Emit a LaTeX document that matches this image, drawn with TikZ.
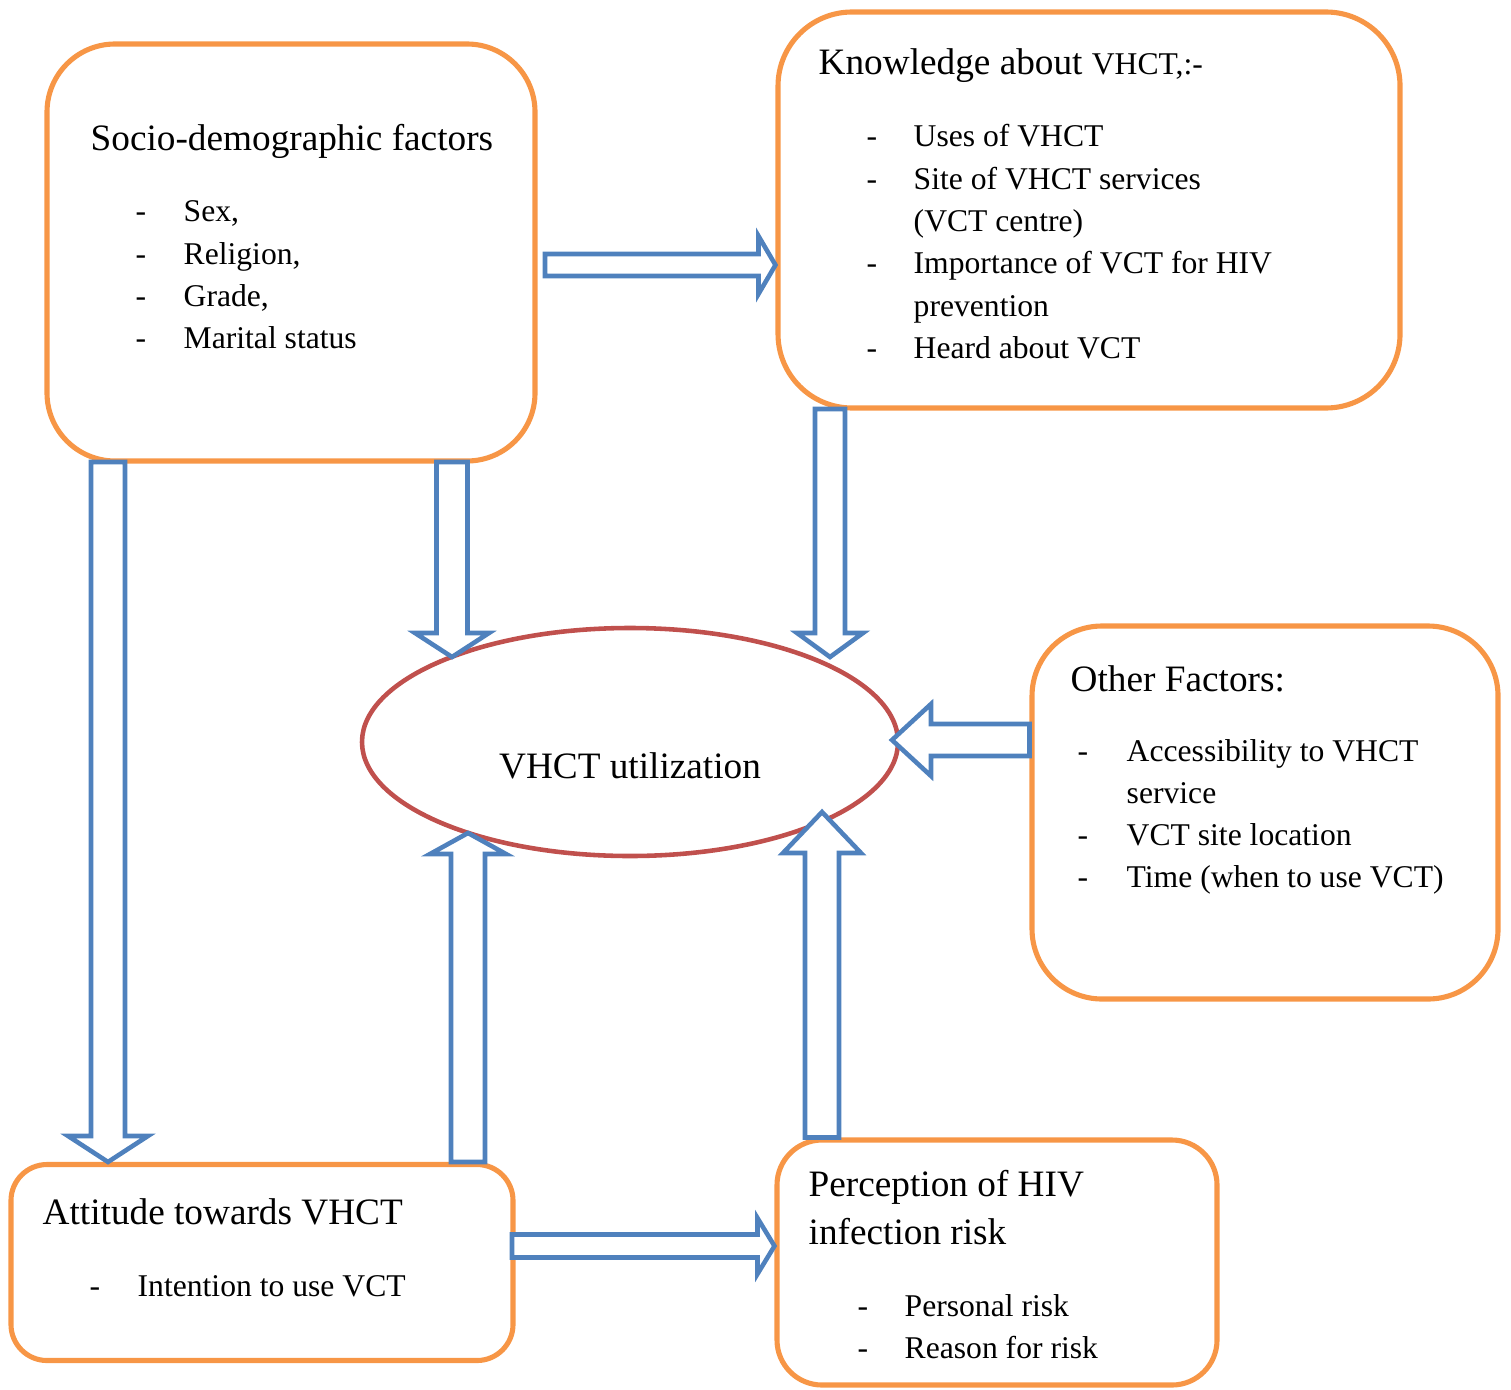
\documentclass[tikz,border=0pt]{standalone}
\usepackage{fontspec}
\setmainfont{Liberation Serif}
\usetikzlibrary{shapes, positioning, calc}

\definecolor{boxorange}{HTML}{F79646}
\definecolor{arrblue}{HTML}{4F81BD}
\definecolor{ellred}{HTML}{C0504D}

\newcommand{\titlefont}{\fontsize{10.6}{13.7}\selectfont}
\newcommand{\itemfont}{\fontsize{9}{12.04}\selectfont}

% hollow block arrow: start, tip, shaft half width, head half width, head length
\newcommand{\blockarrow}[5]{%
    \coordinate (hb) at ($(#2)!#5!(#1)$);
    \draw[barrow] ($(#1)!#3!90:(#2)$) -- ($(hb)!#3!90:(#2)$) -- ($(hb)!#4!90:(#2)$)
        -- (#2) -- ($(hb)!#4!-90:(#2)$) -- ($(hb)!#3!-90:(#2)$) -- ($(#1)!#3!-90:(#2)$) -- cycle;
}

\tikzset{
    box/.style={draw=boxorange, line width=1.45pt, rounded corners=#1, inner sep=0pt},
    box/.default=0.68cm,
    barrow/.style={draw=arrblue, line width=1.3pt, fill=white},
    head/.style={anchor=base west, inner sep=0pt, font=\titlefont},
    items/.style={anchor=base west, inner sep=0pt, font=\itemfont},
}

\begin{document}
\begin{tikzpicture}
    \useasboundingbox (0,0) rectangle (15.11,-13.89);

    % boxes
    \node[box, minimum width=4.88cm, minimum height=4.17cm] (socio) at (2.91,-2.525) {};
    \node[box=0.74cm, minimum width=6.22cm, minimum height=3.96cm] (know) at (10.89,-2.10) {};
    \node[box=0.7cm, minimum width=4.66cm, minimum height=3.73cm] (other) at (12.65,-8.125) {};
    \node[box=0.36cm, minimum width=5.02cm, minimum height=1.96cm] (att) at (2.62,-12.625) {};
    \node[box=0.45cm, minimum width=4.40cm, minimum height=2.45cm] (perc) at (9.97,-12.625) {};
    \node[ellipse, draw=ellred, line width=1.3pt, inner sep=0pt,
        minimum width=5.36cm, minimum height=2.28cm] (util) at (6.30,-7.42) {};

    % texts
    \node[head] (sociohead) at (0.90,-1.51) {Socio-demographic factors};
    \node[items] (socioitems) at (1.35,-2.22) {\begin{tabular}[t]{@{}p{0.48cm}@{}l@{}}
        - & Sex,\\ - & Religion,\\ - & Grade,\\ - & Marital status\end{tabular}};

    \node[head] (knowhead) at (8.18,-0.75) {Knowledge about {\itemfont VHCT,:-}};
    \node[items] (knowitems) at (8.66,-1.47) {\begin{tabular}[t]{@{}p{0.47cm}@{}l@{}}
        - & Uses of VHCT\\ - & Site of VHCT services\\ & (VCT centre)\\
        - & Importance of VCT for HIV\\ & prevention\\ - & Heard about VCT\end{tabular}};

    \node[head] (otherhead) at (10.70,-6.91) {Other Factors:};
    \node[items] (otheritems) at (10.77,-7.61) {\begin{tabular}[t]{@{}p{0.49cm}@{}l@{}}
        - & Accessibility to VHCT\\ & service\\ - & VCT site location\\
        - & Time (when to use VCT)\end{tabular}};

    \node[head] (atthead) at (0.42,-12.24) {Attitude towards VHCT};
    \node[items] (attitems) at (0.89,-12.96) {\begin{tabular}[t]{@{}p{0.48cm}@{}l@{}}
        - & Intention to use VCT\end{tabular}};

    \node[head] (perchead) at (8.08,-11.96) {\begin{tabular}[t]{@{}l@{}}
        Perception of HIV\\ infection risk\end{tabular}};
    \node[items] (percitems) at (8.57,-13.16) {\begin{tabular}[t]{@{}p{0.47cm}@{}l@{}}
        - & Personal risk\\ - & Reason for risk\end{tabular}};

    \node[anchor=base, inner sep=0pt, font=\titlefont] (utiltxt) at (6.30,-7.78) {VHCT utilization};

    % arrow ends
    \coordinate (sk1) at (5.45,-2.65);
    \coordinate (sk2) at (know.west |- sk1);
    \coordinate (sa1) at (1.08,-4.62);
    \coordinate (sa2) at (att.north -| sa1);
    \coordinate (su1) at (4.52,-4.62);
    \coordinate (su2) at (4.52,-6.57);
    \coordinate (ku1) at (8.30,-4.09);
    \coordinate (ku2) at (8.30,-6.57);
    \coordinate (ou1) at (other.west |- 0,-7.40);
    \coordinate (ou2) at (8.92,-7.40);
    \coordinate (au1) at (att.north -| 4.68,0);
    \coordinate (au2) at (4.68,-8.33);
    \coordinate (pu1) at (perc.north -| 8.22,0);
    \coordinate (pu2) at (8.22,-8.12);
    \coordinate (ap1) at (5.12,-12.46);
    \coordinate (ap2) at (perc.west |- ap1);

    % arrows
    \blockarrow{sk1}{sk2}{0.11cm}{0.29cm}{0.17cm}
    \blockarrow{sa1}{sa2}{0.17cm}{0.40cm}{0.26cm}
    \blockarrow{su1}{su2}{0.155cm}{0.37cm}{0.24cm}
    \blockarrow{ku1}{ku2}{0.15cm}{0.33cm}{0.24cm}
    \blockarrow{ou1}{ou2}{0.16cm}{0.36cm}{0.39cm}
    \blockarrow{au1}{au2}{0.17cm}{0.38cm}{0.21cm}
    \blockarrow{pu1}{pu2}{0.17cm}{0.39cm}{0.41cm}
    \blockarrow{ap1}{ap2}{0.115cm}{0.28cm}{0.17cm}
\end{tikzpicture}
\end{document}
